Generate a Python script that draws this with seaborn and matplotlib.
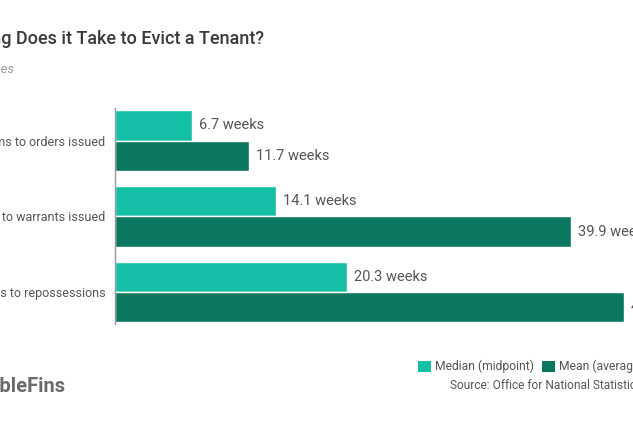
import pandas as pd
import seaborn as sns
import matplotlib.pyplot as plt
from matplotlib.patches import Patch

# chart values
stages = ['Claims to orders issued', 'Claims to warrants issued', 'Claims to repossessions']
median_weeks = [6.7, 14.1, 20.3]
mean_weeks = [11.7, 39.9, 44.5]
series_names = ['Median (midpoint)', 'Mean (average)']
series_colors = ['#14bfa6', '#0c7761']

W, H = 633, 422


def build_frame():
    """Long table for seaborn's hue grouping"""
    rows = []
    for stage, med, mean in zip(stages, median_weeks, mean_weeks):
        rows.append({'Stage': stage, 'Series': series_names[0], 'Weeks': med})
        rows.append({'Stage': stage, 'Series': series_names[1], 'Weeks': mean})
    return pd.DataFrame(rows)


def px(x, y):
    """pixel position (top-left origin) to figure fraction"""
    return x / W, 1 - y / H


sns.set_theme(style='white')
plt.rcParams['font.family'] = ['Roboto', 'DejaVu Sans']

fig = plt.figure(figsize=(W / 100, H / 100), dpi=100)
fig.patch.set_facecolor('white')

# axes start at the bar base and run past the right edge (the picture is cropped)
left, top = px(115, 108)
_, bottom = px(0, 324)
ax = fig.add_axes([left, bottom, 571.5 / W, top - bottom])

data = build_frame()
sns.barplot(data=data, y='Stage', x='Weeks', hue='Series', orient='h',
            palette=series_colors, width=0.8, saturation=1, ax=ax, legend=False)

for bars in ax.containers:
    ax.bar_label(bars, fmt='%.1f weeks', padding=5, fontsize=10.5, color='#555555')

ax.set_xlim(0, 50)
ax.set_ylim(2.42, -0.43)
ax.set(xlabel='', ylabel='')
ax.set_xticks([])
ax.tick_params(axis='y', length=0, pad=7, labelsize=9, labelcolor='#555555')
for side in ['top', 'right', 'bottom']:
    ax.spines[side].set_visible(False)
ax.spines['left'].set_color('#999999')
ax.spines['left'].set_linewidth(1)

# title and subtitle, cut by the left edge like the reference
fig.text(*px(264, 44), 'How Long Does it Take to Evict a Tenant?', ha='right', va='baseline',
         fontsize=13, color='#3a3a3a', fontweight='medium')
fig.text(*px(14, 73), 'Median and mean times', ha='right', va='baseline',
         fontsize=9.5, color='#9a9a9a', style='italic')

handles = [Patch(facecolor=c, edgecolor='none') for c in series_colors]
fig.legend(handles, series_names, loc='upper left', bbox_to_anchor=px(413, 355), ncol=2,
           frameon=False, fontsize=8.7, labelcolor='#555555', handlelength=1.05,
           handleheight=1.05, handletextpad=0.35, columnspacing=0.7, borderaxespad=0)

fig.text(*px(450, 389), 'Source: Office for National Statistics', ha='left', va='baseline',
         fontsize=8.6, color='#555555')
fig.text(*px(66, 392), 'SensibleFins', ha='right', va='baseline',
         fontsize=14.5, color='#6a6a6a', fontweight='bold')

fig.savefig('out.png', dpi=100, facecolor='white')
